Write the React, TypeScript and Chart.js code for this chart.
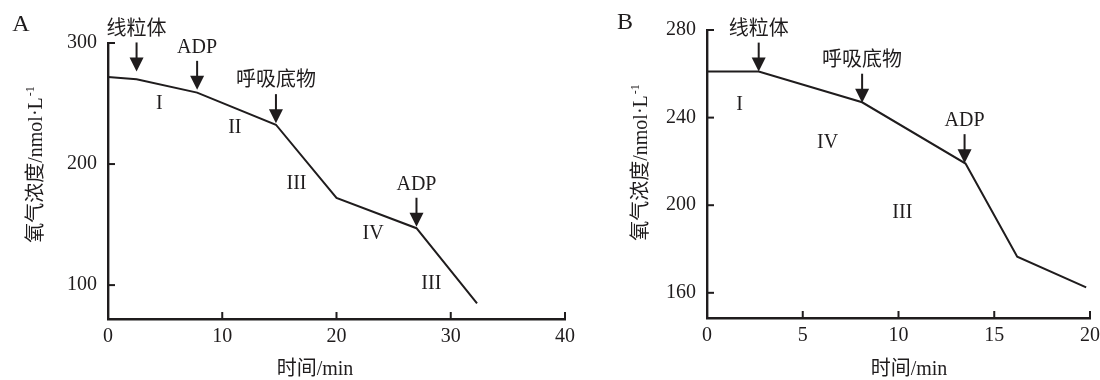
import React, { useEffect, useRef } from "react";
import { Chart, registerables } from "chart.js";

Chart.register(...registerables);

// ---------- Panel A data ----------
const aTimes = [0, 2.5, 7.8, 14.7, 20, 27, 32.3];
const aOxygen = [272, 270, 259, 232.5, 172, 147, 85];
const aXTicks = [0, 10, 20, 30, 40];
const aYTicks = [100, 200, 300];
const aArrowX = [2.5, 7.8, 14.7, 27];
const aArrowY = [276.5, 261.3, 233.8, 148.2];
const aArrowText = ["线粒体", "ADP", "呼吸底物", "ADP"];
const aStageX = [4.5, 11.1, 16.5, 23.2, 28.3];
const aStageY = [250, 229.6, 184, 142.7, 101.3];
const aStageText = ["I", "II", "III", "IV", "III"];

// ---------- Panel B data ----------
const bTimes = [0, 2.7, 8.1, 13.5, 16.2, 19.8];
const bOxygen = [261, 261, 247, 219, 176.5, 162.5];
const bXTicks = [0, 5, 10, 15, 20];
const bYTicks = [160, 200, 240, 280];
const bArrowX = [2.7, 8.1, 13.45];
const bArrowY = [261, 246.8, 219.2];
const bArrowText = ["线粒体", "呼吸底物", "ADP"];
const bStageX = [1.7, 6.3, 10.2];
const bStageY = [246, 228.3, 196.7];
const bStageText = ["I", "IV", "III"];

const xTitle = "时间/min";
const yTitleMain = "氧气浓度/nmol·L";
const yTitleSup = "-1";

const FONT = '"Liberation Serif", "Times New Roman", "Noto Sans CJK SC", serif';
const INK = "#1f1c1d";

type PanelSpec = {
  canvasW: number;
  canvasH: number;
  area: { left: number; right: number; top: number; bottom: number };
  xMin: number; xMax: number; yMin: number; yMax: number;
  times: number[]; oxygen: number[];
  xTicks: number[]; yTicks: number[];
  arrowX: number[]; arrowY: number[]; arrowText: string[];
  stageX: number[]; stageY: number[]; stageText: string[];
  letter: string; letterPos: [number, number];
  xTitlePos: [number, number]; yTitlePos: [number, number];
};

const decorPlugin = {
  id: "decor",
  afterDraw(chart: any, _args: any, opts: any) {
    const spec: PanelSpec = opts.spec;
    if (!spec) return;
    const ctx: CanvasRenderingContext2D = chart.ctx;
    const xs = chart.scales.x;
    const ys = chart.scales.y;
    const ca = chart.chartArea;
    ctx.save();
    ctx.strokeStyle = INK;
    ctx.fillStyle = INK;
    // inward ticks
    ctx.lineWidth = 2;
    const tl = 7;
    spec.xTicks.forEach((v) => {
      const px = xs.getPixelForValue(v);
      ctx.beginPath();
      ctx.moveTo(px, ca.bottom);
      ctx.lineTo(px, ca.bottom - tl);
      ctx.stroke();
    });
    spec.yTicks.forEach((v) => {
      const py = ys.getPixelForValue(v);
      ctx.beginPath();
      ctx.moveTo(ca.left, py);
      ctx.lineTo(ca.left + tl, py);
      ctx.stroke();
    });
    // arrows
    ctx.textAlign = "center";
    ctx.textBaseline = "middle";
    spec.arrowX.forEach((xv, i) => {
      const px = xs.getPixelForValue(xv);
      const tip = ys.getPixelForValue(spec.arrowY[i]);
      ctx.lineWidth = 2;
      ctx.beginPath();
      ctx.moveTo(px, tip - 29);
      ctx.lineTo(px, tip - 12);
      ctx.stroke();
      ctx.beginPath();
      ctx.moveTo(px - 7, tip - 14);
      ctx.lineTo(px + 7, tip - 14);
      ctx.lineTo(px, tip);
      ctx.closePath();
      ctx.fill();
      ctx.font = `20px ${FONT}`;
      ctx.fillText(spec.arrowText[i], px, tip - 42);
    });
    // stage labels
    ctx.font = `20px ${FONT}`;
    spec.stageX.forEach((xv, i) => {
      ctx.fillText(spec.stageText[i], xs.getPixelForValue(xv), ys.getPixelForValue(spec.stageY[i]));
    });
    // panel letter
    ctx.font = `24px ${FONT}`;
    ctx.fillText(spec.letter, spec.letterPos[0], spec.letterPos[1]);
    // x title
    ctx.font = `20px ${FONT}`;
    ctx.fillText(xTitle, spec.xTitlePos[0], spec.xTitlePos[1]);
    // y title rotated with superscript
    ctx.translate(spec.yTitlePos[0], spec.yTitlePos[1]);
    ctx.rotate(-Math.PI / 2);
    ctx.font = `20px ${FONT}`;
    const w1 = ctx.measureText(yTitleMain).width;
    ctx.font = `12px ${FONT}`;
    const w2 = ctx.measureText(yTitleSup).width;
    const start = -(w1 + w2) / 2;
    ctx.textAlign = "left";
    ctx.font = `20px ${FONT}`;
    ctx.fillText(yTitleMain, start, 0);
    ctx.font = `12px ${FONT}`;
    ctx.fillText(yTitleSup, start + w1 + 1, -6);
    ctx.restore();
  },
};

function makeConfig(spec: PanelSpec): any {
  const { area } = spec;
  return {
    type: "line",
    data: {
      datasets: [
        {
          data: spec.times.map((t, i) => ({ x: t, y: spec.oxygen[i] })),
          borderColor: INK,
          borderWidth: 2,
          pointRadius: 0,
          tension: 0,
          fill: false,
        },
      ],
    },
    options: {
      responsive: false,
      animation: false,
      devicePixelRatio: 1,
      layout: {
        padding: { left: 0, top: area.top, right: spec.canvasW - area.right, bottom: 0 },
      },
      plugins: {
        legend: { display: false },
        tooltip: { enabled: false },
        decor: { spec },
      },
      scales: {
        x: {
          type: "linear",
          min: spec.xMin,
          max: spec.xMax,
          afterBuildTicks: (s: any) => {
            s.ticks = spec.xTicks.map((v) => ({ value: v }));
          },
          afterFit: (s: any) => {
            s.height = spec.canvasH - area.bottom;
            s.paddingLeft = 0;
            s.paddingRight = 0;
          },
          grid: { display: false, drawTicks: false },
          border: { display: true, color: INK, width: 2.4 },
          ticks: {
            color: INK,
            font: { family: FONT, size: 20 },
            padding: 6,
            maxRotation: 0,
            autoSkip: false,
          },
        },
        y: {
          type: "linear",
          min: spec.yMin,
          max: spec.yMax,
          afterBuildTicks: (s: any) => {
            s.ticks = spec.yTicks.map((v) => ({ value: v }));
          },
          afterFit: (s: any) => {
            s.width = area.left;
            s.paddingTop = 0;
            s.paddingBottom = 0;
          },
          grid: { display: false, drawTicks: false },
          border: { display: true, color: INK, width: 2.4 },
          ticks: {
            color: INK,
            font: { family: FONT, size: 20 },
            padding: 11,
            autoSkip: false,
          },
        },
      },
    },
    plugins: [decorPlugin],
  };
}

const specA: PanelSpec = {
  canvasW: 590,
  canvasH: 380,
  area: { left: 108, right: 565, top: 43, bottom: 319 },
  xMin: 0, xMax: 40, yMin: 72, yMax: 300,
  times: aTimes, oxygen: aOxygen,
  xTicks: aXTicks, yTicks: aYTicks,
  arrowX: aArrowX, arrowY: aArrowY, arrowText: aArrowText,
  stageX: aStageX, stageY: aStageY, stageText: aStageText,
  letter: "A", letterPos: [21, 25],
  xTitlePos: [315, 370], yTitlePos: [37, 165],
};

const specB: PanelSpec = {
  canvasW: 510,
  canvasH: 380,
  area: { left: 117, right: 500, top: 30, bottom: 318 },
  xMin: 0, xMax: 20, yMin: 148.5, yMax: 280,
  times: bTimes, oxygen: bOxygen,
  xTicks: bXTicks, yTicks: bYTicks,
  arrowX: bArrowX, arrowY: bArrowY, arrowText: bArrowText,
  stageX: bStageX, stageY: bStageY, stageText: bStageText,
  letter: "B", letterPos: [35, 23],
  xTitlePos: [319, 370], yTitlePos: [52, 163],
};

function Panel({ spec, left }: { spec: PanelSpec; left: number }) {
  const ref = useRef<HTMLCanvasElement | null>(null);
  useEffect(() => {
    if (!ref.current) return;
    const chart = new Chart(ref.current, makeConfig(spec));
    return () => chart.destroy();
  }, [spec]);
  return (
    <canvas
      ref={ref}
      width={spec.canvasW}
      height={spec.canvasH}
      style={{ position: "absolute", left, top: 0, width: spec.canvasW, height: spec.canvasH }}
    />
  );
}

export default function App() {
  return (
    <div style={{ position: "absolute", left: 0, top: 0, width: 1100, height: 380, background: "#fff", overflow: "hidden" }}>
      <Panel spec={specA} left={0} />
      <Panel spec={specB} left={590} />
    </div>
  );
}
